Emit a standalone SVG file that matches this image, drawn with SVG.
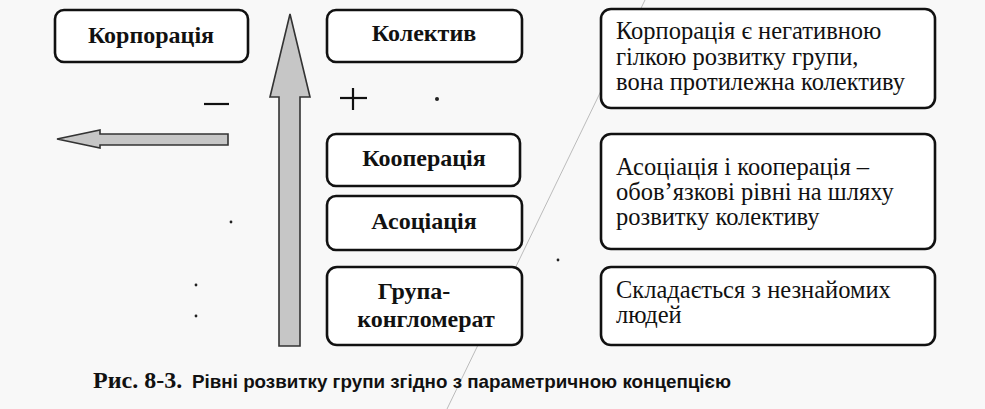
<svg xmlns="http://www.w3.org/2000/svg" width="985" height="409" viewBox="0 0 985 409">
<style>
.box{fill:#ffffff;stroke:#111;stroke-width:2.6}
.lbl{font-family:"Liberation Serif","Times New Roman",serif;font-weight:bold;font-size:24px;fill:#111;text-anchor:middle}
.txt{font-family:"Liberation Serif","Times New Roman",serif;font-size:24.5px;fill:#111}
.arrow{fill:#c6c6c6;stroke:#333;stroke-width:1.6}
.sign{stroke:#111;stroke-width:2.2;fill:none}
.speck{fill:#222}
</style>
<rect x="0" y="0" width="985" height="409" fill="#f8f8f8"/>
<line x1="645" y1="0" x2="447" y2="409" stroke="#bbb" stroke-width="1"/>
<g id="connectors">
<polygon class="arrow" points="290,14 310,97 300,97 300,346 279,346 279,97 270,97"/>
<polygon class="arrow" points="57,139 100,130 100,134 228,134 228,145 100,145 100,148"/>
<line class="sign" x1="204" y1="104" x2="229" y2="104"/>
<line class="sign" x1="340" y1="98" x2="367" y2="98"/>
<line class="sign" x1="353" y1="88" x2="353" y2="110"/>
</g>
<g id="n-korporatsiia"><rect class="box" x="55" y="10" width="193" height="52" rx="9"/><text class="lbl" x="151" y="43">Корпорація</text></g>
<g id="n-kolektyv"><rect class="box" x="327" y="10" width="195" height="52" rx="9"/><text class="lbl" x="424" y="41">Колектив</text></g>
<g id="n-kooperatsiia"><rect class="box" x="327" y="134" width="193" height="52" rx="9"/><text class="lbl" x="424" y="166">Кооперація</text></g>
<g id="n-asotsiatsiia"><rect class="box" x="327" y="196" width="195" height="54" rx="9"/><text class="lbl" x="424" y="229">Асоціація</text></g>
<g id="n-hrupa"><rect class="box" x="327" y="267" width="195" height="78" rx="10"/><text class="lbl" x="414" y="299">Група-</text><text class="lbl" x="426" y="327">конгломерат</text></g>
<g id="n-desc1"><rect class="box" x="601" y="9" width="334" height="99" rx="10"/><text class="txt" x="616" y="39">Корпорація є негативною</text><text class="txt" x="616" y="65">гілкою розвитку групи,</text><text class="txt" x="616" y="90">вона протилежна колективу</text></g>
<g id="n-desc2"><rect class="box" x="601" y="134" width="334" height="115" rx="10"/><text class="txt" x="616" y="175">Асоціація і кооперація –</text><text class="txt" x="616" y="200">обов’язкові рівні на шляху</text><text class="txt" x="616" y="225">розвитку колективу</text></g>
<g id="n-desc3"><rect class="box" x="601" y="267" width="334" height="78" rx="10"/><text class="txt" x="616" y="298">Складається з незнайомих</text><text class="txt" x="616" y="323">людей</text></g>
<circle class="speck" cx="437" cy="99" r="2"/>
<circle class="speck" cx="231" cy="222" r="1.4"/>
<circle class="speck" cx="196" cy="285" r="1.4"/>
<circle class="speck" cx="196" cy="316" r="1.4"/>
<circle class="speck" cx="558" cy="260" r="1.4"/>
<text x="93" y="388" style="font-family:'Liberation Serif','Times New Roman',serif;font-weight:bold;font-size:24px;fill:#111">Рис. 8-3.</text>
<text x="192" y="388" textLength="539" lengthAdjust="spacingAndGlyphs" style="font-family:'Liberation Sans Narrow','Liberation Sans',Arial,sans-serif;font-weight:bold;font-size:19px;fill:#111">Рівні розвитку групи згідно з параметричною концепцією</text>
</svg>
